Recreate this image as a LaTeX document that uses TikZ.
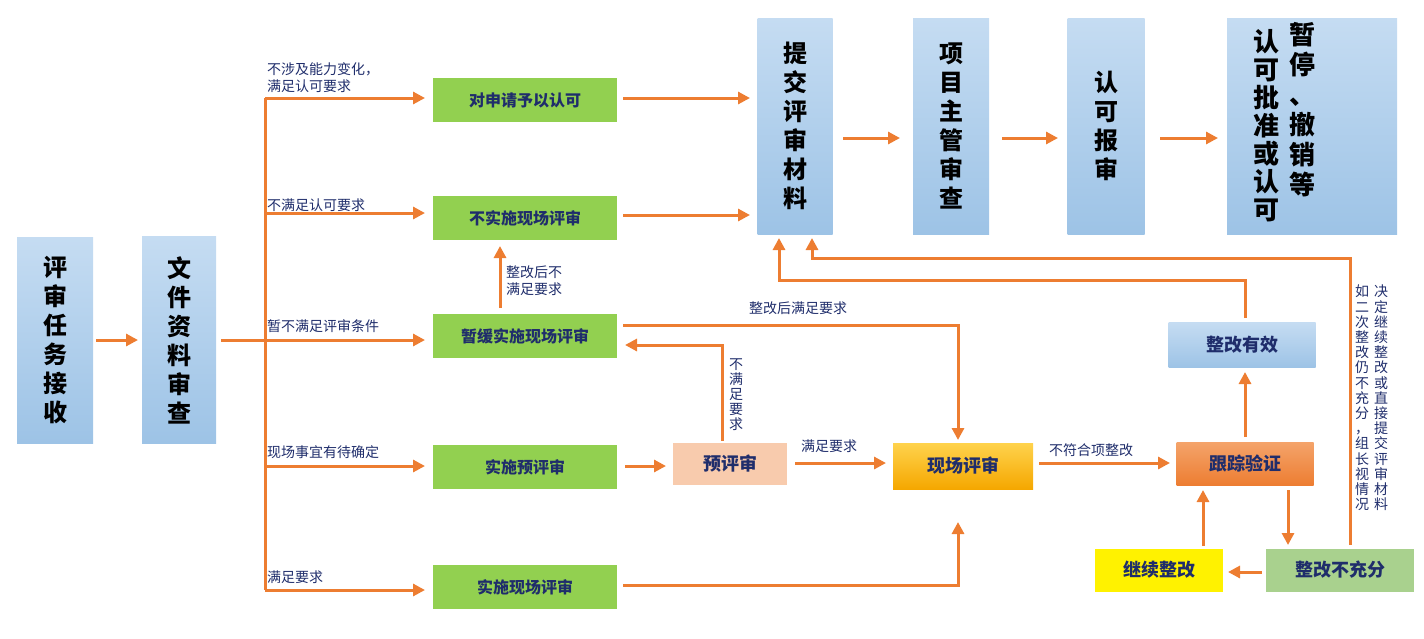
\documentclass[tikz,border=0pt]{standalone}
\usepackage{fontspec}
\setmainfont{Noto Sans CJK SC}
\usetikzlibrary{arrows.meta}
\definecolor{org}{HTML}{ED7D31}
\definecolor{navy}{HTML}{1F2D6B}
\definecolor{bl}{HTML}{9DC3E6}
\definecolor{blt}{HTML}{C5DCF2}
\definecolor{gr}{HTML}{92D050}
\definecolor{peach}{HTML}{F8CBAD}
\definecolor{goldt}{HTML}{FFD34D}
\definecolor{goldb}{HTML}{F5A700}
\definecolor{orgt}{HTML}{F4A36A}
\definecolor{lgr}{HTML}{A9D18E}
\begin{document}
\begin{tikzpicture}[x=1pt,y=-1pt,
 bbox/.style={draw=none,top color=blt,bottom color=bl,inner sep=0,align=center,font=\fontsize{24}{29}\selectfont\bfseries,text=black},
 gbox/.style={fill=gr,inner sep=0,minimum width=184,minimum height=44,font=\fontsize{16}{18}\selectfont\bfseries,text=navy},
 sbox/.style={inner sep=0,font=\fontsize{18}{20}\selectfont\bfseries,text=navy},
 arr/.style={draw=org,line width=3pt,-{Triangle[length=12pt,width=12pt]}},
 ln/.style={draw=org,line width=3pt},
 lab/.style={font=\fontsize{14}{17}\selectfont,text=navy,inner sep=1pt}]
\useasboundingbox (0,0) rectangle (1424,638);
% blue vertical boxes
\node[bbox,minimum width=76,minimum height=206] (task) at (55,340) {评\\审\\任\\务\\接\\收};
\node[bbox,minimum width=74,minimum height=207] (doc) at (179,340) {文\\件\\资\\料\\审\\查};
\node[bbox,minimum width=75,minimum height=216] (sub) at (795,126) {提\\交\\评\\审\\材\\料};
\node[bbox,minimum width=76,minimum height=216] (mgr) at (951,126) {项\\目\\主\\管\\审\\查};
\node[bbox,minimum width=77,minimum height=216] (rep) at (1106,126) {认\\可\\报\\审};
\node[bbox,minimum width=170,minimum height=216] (stop) at (1312,126) {};
\node[font=\fontsize{26}{30}\selectfont\bfseries,align=center] (stopR) at (1302,110) {暂\\停\\、\\撤\\销\\等};
\node[font=\fontsize{26}{28}\selectfont\bfseries,align=center] (stopL) at (1266,126) {认\\可\\批\\准\\或\\认\\可};
% green boxes
\node[gbox] (g1) at (525,100) {对申请予以认可};
\node[gbox] (g2) at (525,218) {不实施现场评审};
\node[gbox] (g3) at (525,336) {暂缓实施现场评审};
\node[gbox] (g4) at (525,467) {实施预评审};
\node[gbox] (g5) at (525,587) {实施现场评审};
% other boxes
\node[sbox,fill=peach,minimum width=114,minimum height=42] (pre) at (730,464) {预评审};
\node[sbox,top color=goldt,bottom color=goldb,minimum width=140,minimum height=46] (site) at (963,466) {现场评审};
\node[sbox,top color=orgt,bottom color=org,minimum width=137,minimum height=43] (trk) at (1245,464) {跟踪验证};
\node[sbox,top color=blt,bottom color=bl,minimum width=147,minimum height=45] (ok) at (1242,345) {整改有效};
\node[sbox,fill=yellow,minimum width=128,minimum height=43] (cont) at (1159,570) {继续整改};
\node[sbox,fill=lgr,minimum width=148,minimum height=43] (ins) at (1340,570) {整改不充分};
% arrows
\draw[arr] (task.east)++(3,0) -- (138,340);
\coordinate (t0) at (265,340);
\draw[ln] (doc.east)++(5,0) -- (t0);
\coordinate (tt) at (265,98); \coordinate (tb) at (265,590);
\draw[ln] (tt) -- (tb);
\foreach \y in {98,213,340,466,590}
  \draw[arr] (265,\y) -- (425,\y);
\node[lab,anchor=south west,align=left] (l1) at (266,94) {不涉及能力变化，\\满足认可要求};
\node[lab,anchor=south west] (l2) at (266,213) {不满足认可要求};
\node[lab,anchor=south west] (l3) at (266,334) {暂不满足评审条件};
\node[lab,anchor=south west] (l4) at (266,460) {现场事宜有待确定};
\node[lab,anchor=south west] (l5) at (266,585) {满足要求};
\draw[arr] (g1.east)++(6,-2) -- (750,98);
\draw[arr] (g2.east)++(6,-3) -- (750,215);
\draw[arr] (500,308) -- (500,246);
\node[lab,anchor=west,align=left] (l6) at (505,281) {整改后不\\满足要求};
\coordinate (c1) at (958,325);
\draw[arr] (g3.east)++(6,-11) -- (c1) -- (958,440);
\node[lab] (l7) at (798,308) {整改后满足要求};
\coordinate (c2) at (722,345);
\draw[arr] (722,441) -- (c2) -- (625,345);
\node[lab,align=center,font=\fontsize{14}{15}\selectfont] (l8) at (736,395) {不\\满\\足\\要\\求};
\draw[arr] (g4.east)++(8,-1) -- (666,466);
\draw[arr] (pre.east)++(8,-1) -- (886,463);
\node[lab] (l9) at (829,446) {满足要求};
\coordinate (c3) at (958,585);
\draw[arr] (g5.east)++(6,-2) -- (c3) -- (958,522);
\draw[arr] (site.east)++(6,-3) -- (1170,463);
\node[lab] (l10) at (1091,450) {不符合项整改};
\draw[arr] (1245,437) -- (1245,372);
\coordinate (c4) at (1245,280); \coordinate (c5) at (779,280);
\draw[arr] (1245,318) -- (c4) -- (c5) -- (779,238);
\coordinate (c6) at (1350,258); \coordinate (c7) at (812,258);
\draw[arr] (1350,545) -- (c6) -- (c7) -- (812,238);
\draw[arr] (1288,490) -- (1288,545);
\draw[arr] (ins.west)++(-4,2) -- (1228,572);
\draw[arr] (1203,546) -- (1203,490);
\draw[arr] (843,138) -- (900,138);
\draw[arr] (1002,138) -- (1058,138);
\draw[arr] (1160,138) -- (1218,138);
\node[lab,align=center,font=\fontsize{14}{15.2}\selectfont] (l11) at (1362,398) {如\\二\\次\\整\\改\\仍\\不\\充\\分\\，\\组\\长\\视\\情\\况};
\node[lab,align=center,font=\fontsize{14}{15.2}\selectfont] (l12) at (1381,398) {决\\定\\继\\续\\整\\改\\或\\直\\接\\提\\交\\评\\审\\材\\料};
\end{tikzpicture}
\end{document}
